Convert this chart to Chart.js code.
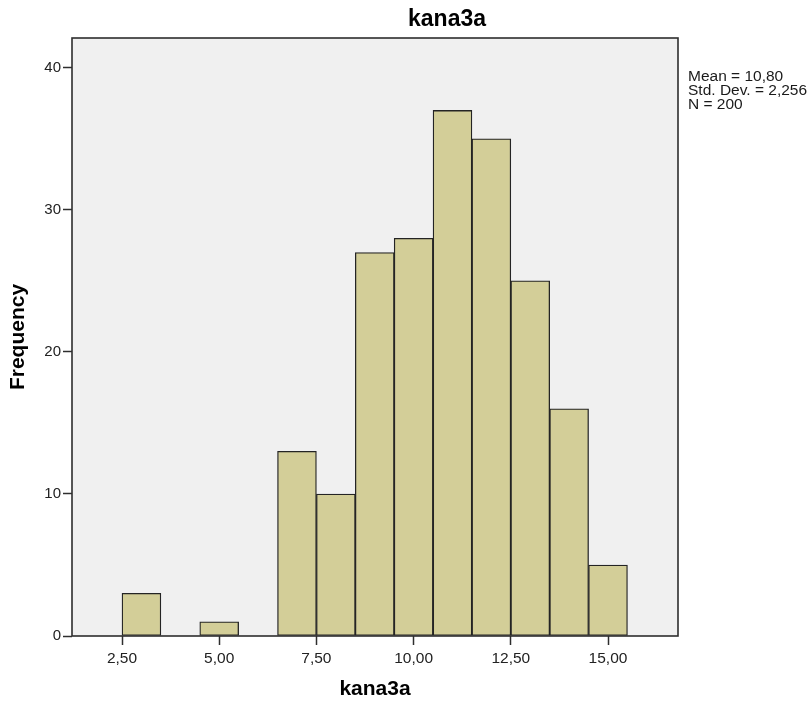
<!DOCTYPE html>
<html>
<head>
<meta charset="utf-8">
<script src="https://cdn.jsdelivr.net/npm/chart.js@4/dist/chart.umd.min.js"></script>
<style>
  html, body { margin: 0; padding: 0; background: #ffffff; }
  canvas { display: block; }
</style>
</head>
<body>
<canvas id="hist" width="811" height="705"></canvas>
<script>
// Histogram of kana3a (bin width 1)
const chartTitle = 'kana3a';
const xAxisTitle = 'kana3a';
const yAxisTitle = 'Frequency';
const binCenters = [3, 5, 7, 8, 9, 10, 11, 12, 13, 14, 15];
const frequencies = [3, 1, 13, 10, 27, 28, 37, 35, 25, 16, 5];
const xTickValues = [2.5, 5, 7.5, 10, 12.5, 15];
const xTickLabels = ['2,50', '5,00', '7,50', '10,00', '12,50', '15,00'];
const yTickValues = [0, 10, 20, 30, 40];
const yTickLabels = ['0', '10', '20', '30', '40'];
const statsLines = ['Mean = 10,80', 'Std. Dev. = 2,256', 'N = 200'];

const FONT = '"Liberation Sans", Arial, sans-serif';
const FRAME = '#2e2e2e';

// Plot background, outer frame, title and summary statistics
const decorations = {
  id: 'decorations',
  beforeDatasetsDraw(chart) {
    const { ctx, chartArea: a } = chart;
    ctx.save();
    ctx.fillStyle = '#f0f0f0';
    ctx.fillRect(a.left, a.top, a.right - a.left, a.bottom - a.top);
    ctx.restore();
  },
  afterDraw(chart) {
    const { ctx, chartArea: a } = chart;
    ctx.save();
    ctx.strokeStyle = FRAME;
    ctx.lineWidth = 1.6;
    ctx.strokeRect(a.left, a.top, a.right - a.left, a.bottom - a.top);

    ctx.fillStyle = '#000';
    ctx.textAlign = 'center';
    ctx.textBaseline = 'alphabetic';
    ctx.font = 'bold 23px ' + FONT;
    ctx.fillText(chartTitle, 447, 26);

    ctx.textAlign = 'left';
    ctx.fillStyle = '#1a1a1a';
    ctx.font = '15.5px ' + FONT;
    statsLines.forEach((s, i) => ctx.fillText(s, a.right + 10, 81 + i * 14));
    ctx.restore();
  }
};

new Chart(document.getElementById('hist'), {
  type: 'bar',
  data: {
    datasets: [{
      data: binCenters.map((x, i) => ({ x: x, y: frequencies[i] })),
      backgroundColor: 'rgb(211, 206, 152)',
      borderColor: '#242424',
      borderWidth: 1.3,
      borderSkipped: false,
      barPercentage: 1,
      categoryPercentage: 1
    }]
  },
  options: {
    responsive: false,
    animation: false,
    devicePixelRatio: 1,
    layout: { padding: { left: 0, top: 38, right: 133, bottom: 0 } },
    plugins: { legend: { display: false }, tooltip: { enabled: false } },
    scales: {
      x: {
        type: 'linear',
        offset: false,
        min: 1.214,
        max: 16.80,
        afterFit(scale) { scale.height = 69; },
        afterBuildTicks(scale) { scale.ticks = xTickValues.map(v => ({ value: v })); },
        grid: {
          offset: false,
          drawOnChartArea: false,
          drawTicks: true,
          tickLength: 9,
          tickColor: FRAME,
          tickWidth: 1.5
        },
        border: { display: false },
        ticks: {
          padding: 4,
          color: '#222',
          font: { family: FONT, size: 15.5 },
          maxRotation: 0,
          callback(value, index) { return xTickLabels[index]; }
        },
        title: {
          display: true,
          text: xAxisTitle,
          color: '#000',
          font: { family: FONT, size: 21, weight: 'bold' },
          padding: { top: 0, bottom: 3 }
        }
      },
      y: {
        type: 'linear',
        min: 0,
        max: 42.1,
        afterFit(scale) { scale.width = 72; },
        afterBuildTicks(scale) { scale.ticks = yTickValues.map(v => ({ value: v })); },
        grid: {
          drawOnChartArea: false,
          drawTicks: true,
          tickLength: 9,
          tickColor: FRAME,
          tickWidth: 1.5
        },
        border: { display: false },
        ticks: {
          padding: 2,
          color: '#222',
          font: { family: FONT, size: 15 },
          callback(value, index) { return yTickLabels[index]; }
        },
        title: {
          display: true,
          text: yAxisTitle,
          color: '#000',
          font: { family: FONT, size: 21, weight: 'bold' },
          padding: { top: 6, bottom: 0 }
        }
      }
    }
  },
  plugins: [decorations]
});
</script>
</body>
</html>
